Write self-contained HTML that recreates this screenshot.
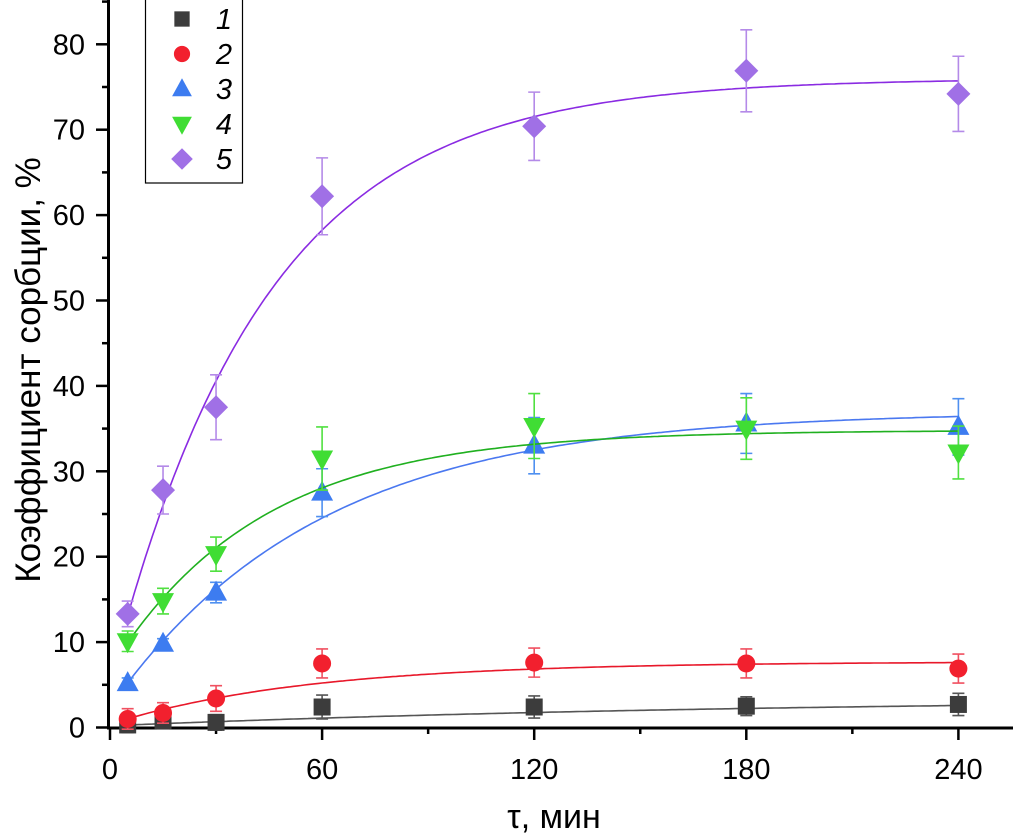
<!DOCTYPE html>
<html><head><meta charset="utf-8"><style>
html,body{margin:0;padding:0;background:#fff;}
svg{display:block;font-family:"Liberation Sans",Arial,sans-serif;}
</style></head><body>
<svg id="chart" width="1013" height="834" viewBox="0 0 1013 834">
<g id="axes"></g><g id="series"></g>
<text x="554" y="828" font-size="34" text-anchor="middle">τ, мин</text>
<text transform="translate(40,370) rotate(-90)" font-size="35" text-anchor="middle">Коэффициент сорбции, %</text>
<g>
<rect x="145.5" y="-1" width="97" height="184" fill="#fff" stroke="#000" stroke-width="1.2"/>
<g id="legend-items"></g>
</g>
</svg>
<script>
const times = [5, 15, 30, 60, 120, 180, 240];
const s1 = [0.3, 0.8, 0.6, 2.4, 2.4, 2.5, 2.7];
const s1err = [0.9, 0.9, 0.9, 1.4, 1.3, 1.1, 1.3];
const s2 = [1.0, 1.7, 3.4, 7.5, 7.6, 7.5, 6.9];
const s2err = [1.2, 1.2, 1.5, 1.7, 1.7, 1.7, 1.7];
const s3 = [5.2, 9.8, 15.8, 27.5, 33.0, 35.6, 35.2];
const s3err = [0.6, 0.6, 1.2, 2.8, 3.3, 3.5, 3.3];
const s4 = [10.1, 14.8, 20.3, 31.5, 35.3, 35.0, 32.2];
const s4err = [1.2, 1.5, 2.0, 3.7, 3.8, 3.6, 3.1];
const s5 = [13.3, 27.8, 37.5, 62.2, 70.4, 76.9, 74.2];
const s5err = [1.5, 2.8, 3.8, 4.5, 4.0, 4.8, 4.4];
// fit y = A - B*exp(-k t)
const fitA = [3.5, 7.7, 37.0, 34.8, 76.0];
const fitB = [3.3, 7.3, 34.6, 28.0, 70.6];
const fitK = [0.0053, 0.0179, 0.017, 0.0237, 0.023];
const xTicks = [0, 60, 120, 180, 240];
const yTicks = [0, 10, 20, 30, 40, 50, 60, 70, 80];
const legendLabels = ["1","2","3","4","5"];

const NS="http://www.w3.org/2000/svg";
const X=t=>110+t*3.535;
const Y=v=>727.5-v*8.54;
function mk(tag,attrs,parent){const e=document.createElementNS(NS,tag);for(const k in attrs)e.setAttribute(k,attrs[k]);parent.appendChild(e);return e;}
const axes=document.getElementById('axes');
let e;
e=mk('line',{x1:108.5,y1:0,x2:108.5,y2:729,stroke:'#000','stroke-width':3},axes);


e=mk('line',{x1:107,y1:728,x2:1013,y2:728,stroke:'#000','stroke-width':3},axes);


for(let t=0;t<=270;t+=30){const major=t%60===0;
 e=mk('line',{x1:X(t),y1:728,x2:X(t),y2:major?740:734,stroke:'#000','stroke-width':2.5},axes);
 
 }
xTicks.forEach(t=>{e=mk('text',{x:X(t),y:779,'font-size':29,'text-anchor':'middle'},axes);e.textContent=t;
 
 });
for(let v=0;v<=85;v+=5){const major=v%10===0;
 e=mk('line',{x1:major?96:102,y1:Y(v),x2:108,y2:Y(v),stroke:'#000','stroke-width':2.5},axes);
 
 }
yTicks.forEach(v=>{e=mk('text',{x:85,y:Y(v)+10,'font-size':29,'text-anchor':'end'},axes);e.textContent=v;
 
 });

const sers=[s1,s2,s3,s4,s5], errs=[s1err,s2err,s3err,s4err,s5err];
const fill=['#3c3c3c','#f2202e','#3d7cf0','#40dd34','#a070e6'];
const ebc=['#555','#f05060','#4f90f0','#50e040','#b48ae8'];
const linec=['#555','#e8182a','#4a78f0','#20b020','#8a2be2'];
const shapes=['square','circle','up','down','diamond'];
function marker(shape,cx,cy,c,g,s){
 s=s||1;
 if(shape==='square') return mk('rect',{x:cx-8.5*s,y:cy-8.5*s,width:17*s,height:17*s,fill:c},g);
 if(shape==='circle') return mk('circle',{cx:cx,cy:cy,r:9*s,fill:c},g);
 if(shape==='up') return mk('polygon',{points:`${cx},${cy-12*s} ${cx-11*s},${cy+8*s} ${cx+11*s},${cy+8*s}`,fill:c},g);
 if(shape==='down') return mk('polygon',{points:`${cx},${cy+12*s} ${cx-11*s},${cy-8*s} ${cx+11*s},${cy-8*s}`,fill:c},g);
 return mk('polygon',{points:`${cx},${cy-12*s} ${cx+12*s},${cy} ${cx},${cy+12*s} ${cx-12*s},${cy}`,fill:c},g);
}
const sg=document.getElementById('series');
sers.forEach((ser,i)=>{
 const g=mk('g',{},sg);
 
 
 let d='';
 for(let t=5;t<=240;t+=1){const v=fitA[i]-fitB[i]*Math.exp(-fitK[i]*t);d+=(t===5?'M':'L')+X(t).toFixed(1)+','+Y(v).toFixed(1);}
 e=mk('path',{d:d,fill:'none',stroke:linec[i],'stroke-width':1.6},g);
 
 
 ser.forEach((v,j)=>{
  const cx=X(times[j]),cy=Y(v),er=errs[i][j]*8.54;
  e=mk('path',{d:`M${cx},${cy-er}V${cy+er}M${cx-6},${cy-er}H${cx+6}M${cx-6},${cy+er}H${cx+6}`,stroke:ebc[i],'stroke-width':1.6,fill:'none'},g);
  
  
  e=marker(shapes[i],cx,cy,fill[i],g);
  
  
 });
});
const lg=document.getElementById('legend-items');
legendLabels.forEach((l,i)=>{
 const cy=19+i*35;
 e=marker(shapes[i],182,cy,fill[i],lg,0.9);
 
 
 e=mk('text',{x:232,y:cy+10,'font-size':29,'font-style':'italic','text-anchor':'end'},lg);
 e.textContent=l;
 
 
});
</script>
</body></html>
